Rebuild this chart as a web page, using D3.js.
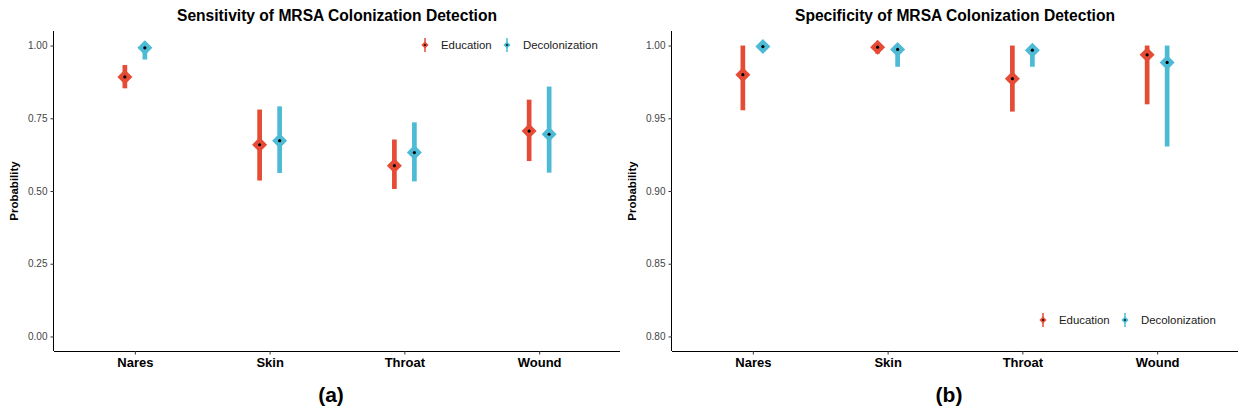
<!DOCTYPE html>
<html>
<head>
<meta charset="utf-8">
<script src="https://cdn.jsdelivr.net/npm/d3@7"></script>
<style>
  body { margin: 0; background: #fff; }
  svg { display: block; font-family: "Liberation Sans", Arial, sans-serif; }
</style>
</head>
<body>
<svg width="1238" height="413"></svg>
<script>
    'use strict';

    const sites = ['Nares', 'Skin', 'Throat', 'Wound'];
    const arms = ['Education', 'Decolonization'];
    const armColors = ['#E64B35', '#4DBBD5'];

    // sensitivity (panel a)
    const sensEduMid = [0.892, 0.659, 0.587, 0.706];
    const sensEduLow = [0.853, 0.536, 0.507, 0.603];
    const sensEduHigh = [0.933, 0.780, 0.677, 0.814];
    const sensDecMid = [0.992, 0.673, 0.632, 0.695];
    const sensDecLow = [0.952, 0.562, 0.533, 0.563];
    const sensDecHigh = [1.000, 0.791, 0.736, 0.859];

    // specificity (panel b)
    const specEduMid = [0.9800, 0.9989, 0.9772, 0.9936];
    const specEduLow = [0.9555, 0.9945, 0.9546, 0.9596];
    const specEduHigh = [1.000, 1.000, 1.000, 1.000];
    const specDecMid = [0.9993, 0.9973, 0.9968, 0.9884];
    const specDecLow = [0.9980, 0.9854, 0.9854, 0.9306];
    const specDecHigh = [1.000, 1.000, 1.000, 1.000];

    const sensTicks = [0, 0.25, 0.5, 0.75, 1];
    const specTicks = [0.80, 0.85, 0.90, 0.95, 1.00];

    const toRows = (mids, lows, highs) => {
        const rows = [];
        arms.forEach((arm, a) => {
            sites.forEach((site, i) => {
                rows.push({ site, arm, mid: mids[a][i], low: lows[a][i], high: highs[a][i] });
            });
        });
        return rows;
    };

    const svg = d3.select('svg');
    const plotTop = 31, plotBottom = 351;

    const drawPanel = (props) => {
        const { left, right, title, tag, rows, domain, ticks, legendX, legendY } = props;

        const g = svg.append('g');

        const x = d3.scalePoint()
            .domain(sites)
            .range([left, right])
            .padding(0.6);
        const dodge = d3.scaleBand()
            .domain(arms)
            .range([-20, 20])
            .paddingInner(0)
            .paddingOuter(0);
        const y = d3.scaleLinear()
            .domain(domain)
            .range([plotBottom, plotTop]);

        const xAxis = g.append('g')
            .attr('transform', `translate(0,${plotBottom})`)
            .call(d3.axisBottom(x).tickSizeOuter(0).tickSize(3.5).tickPadding(3));
        xAxis.select('.domain').attr('d', `M${left},0.5H${right}`);
        xAxis.selectAll('text')
            .attr('font-size', 13)
            .attr('font-weight', 'bold')
            .attr('fill', '#000')
            .attr('font-family', null);
        xAxis.selectAll('line').attr('stroke', '#333');

        const yAxis = g.append('g')
            .attr('transform', `translate(${left},0)`)
            .call(d3.axisLeft(y).tickValues(ticks).tickFormat(d3.format('.2f'))
                .tickSizeOuter(0).tickSize(3.5).tickPadding(3));
        yAxis.select('.domain').attr('d', `M-0.5,${plotTop}V${plotBottom}`);
        yAxis.selectAll('text')
            .attr('font-size', 10)
            .attr('fill', '#444')
            .attr('font-family', null);
        yAxis.selectAll('line').attr('stroke', '#333');

        const midY = (plotTop + plotBottom) / 2;
        g.append('text')
            .attr('x', left - 36)
            .attr('y', midY)
            .attr('transform', `rotate(-90,${left - 36},${midY})`)
            .attr('text-anchor', 'middle')
            .attr('font-size', 11.5)
            .attr('font-weight', 'bold')
            .text('Probability');

        g.append('text')
            .attr('x', (left + right) / 2)
            .attr('y', 21)
            .attr('text-anchor', 'middle')
            .attr('font-size', 15.6)
            .attr('font-weight', 'bold')
            .text(title);

        g.append('text')
            .attr('x', (left + right) / 2 - 6)
            .attr('y', 402)
            .attr('text-anchor', 'middle')
            .attr('font-size', 21)
            .attr('font-weight', 'bold')
            .text(tag);

        const color = d3.scaleOrdinal().domain(arms).range(armColors);
        const px = d => x(d.site) + dodge(d.arm) + dodge.bandwidth() / 2;
        const diamond = r => `M0,${-r}L${r},0L0,${r}L${-r},0Z`;

        const marks = g.selectAll('.mark').data(rows)
            .enter().append('g')
            .attr('class', 'mark');

        marks.append('line')
            .attr('x1', px).attr('x2', px)
            .attr('y1', d => y(d.low))
            .attr('y2', d => y(d.high))
            .attr('stroke', d => color(d.arm))
            .attr('stroke-width', 4.7);

        marks.append('path')
            .attr('transform', d => `translate(${px(d)},${y(d.mid)})`)
            .attr('d', diamond(7.5))
            .attr('fill', d => color(d.arm));

        marks.append('circle')
            .attr('cx', px)
            .attr('cy', d => y(d.mid))
            .attr('r', 1.6)
            .attr('fill', '#000');

        // legend
        const legendOffsets = [0, 82];
        const legend = g.selectAll('.key').data(arms)
            .enter().append('g')
            .attr('class', 'key')
            .attr('transform', (d, i) => `translate(${legendX + legendOffsets[i]},${legendY})`);
        legend.append('line')
            .attr('y1', -7).attr('y2', 7)
            .attr('stroke', d => color(d))
            .attr('stroke-width', 1.5);
        legend.append('path')
            .attr('d', diamond(3.6))
            .attr('fill', d => color(d));
        legend.append('circle')
            .attr('r', 0.9)
            .attr('fill', '#000');
        legend.append('text')
            .attr('x', 16)
            .attr('dy', '0.35em')
            .attr('font-size', 11.4)
            .attr('fill', '#1a1a1a')
            .text(d => d);
    };

    drawPanel({
        left: 54, right: 620,
        title: 'Sensitivity of MRSA Colonization Detection',
        tag: '(a)',
        rows: toRows([sensEduMid, sensDecMid], [sensEduLow, sensDecLow], [sensEduHigh, sensDecHigh]),
        domain: [-0.05, 1.05],
        ticks: sensTicks,
        legendX: 425, legendY: 45
    });

    drawPanel({
        left: 672, right: 1238,
        title: 'Specificity of MRSA Colonization Detection',
        tag: '(b)',
        rows: toRows([specEduMid, specDecMid], [specEduLow, specDecLow], [specEduHigh, specDecHigh]),
        domain: [0.79, 1.01],
        ticks: specTicks,
        legendX: 1043, legendY: 320
    });
</script>
</body>
</html>
